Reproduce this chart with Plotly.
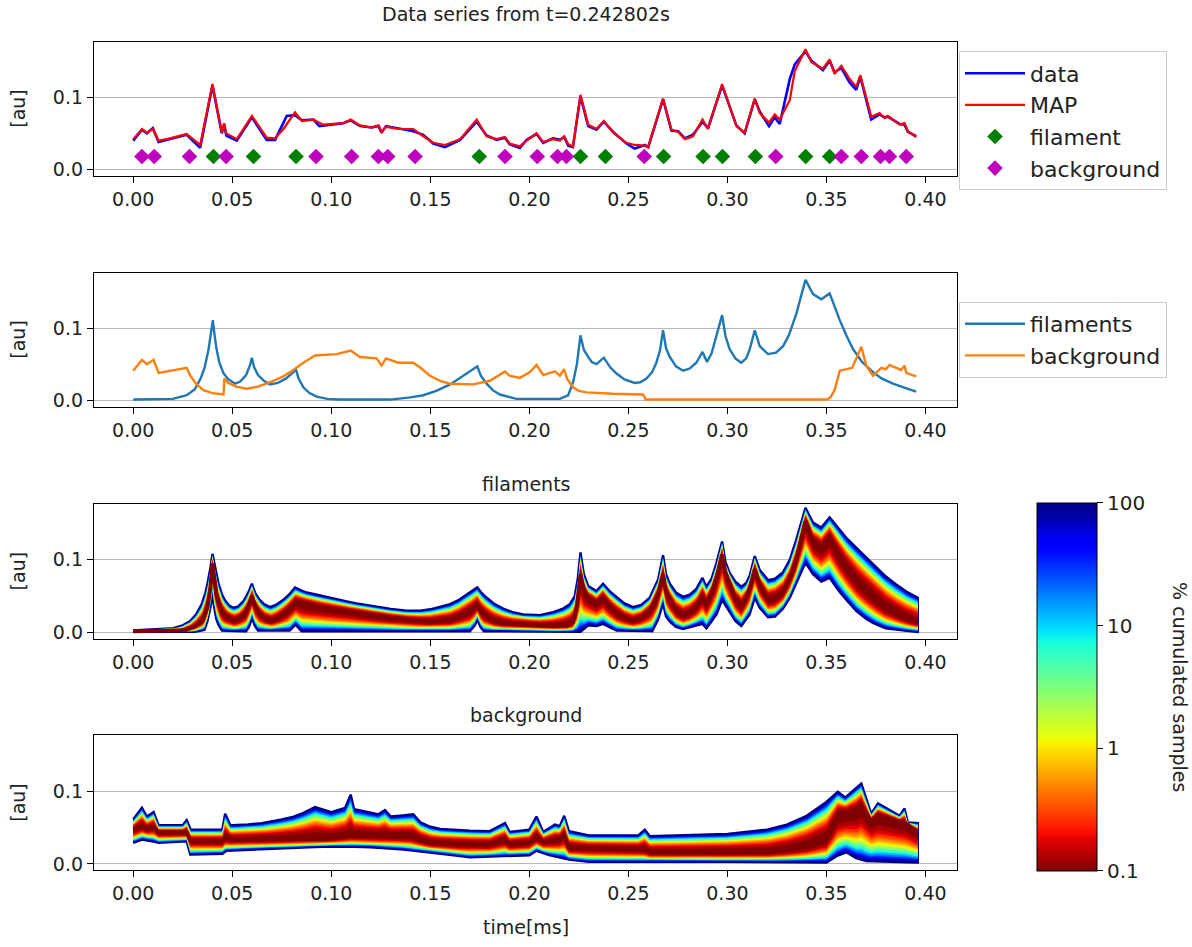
import numpy as np
import plotly.graph_objects as go

W, H = 1192, 947
FONT = "DejaVu Sans"

# ---------------- panel 1: measured data and MAP reconstruction ----------------
map_pts = [
    (0.0, 0.042), (0.0044, 0.056), (0.0069, 0.051), (0.0099, 0.056), (0.0128, 0.040),
    (0.017, 0.042), (0.027, 0.049), (0.0338, 0.034), (0.040, 0.118), (0.0447, 0.051),
    (0.0459, 0.064), (0.047, 0.050), (0.0523, 0.042), (0.0599, 0.074), (0.0674, 0.044),
    (0.0716, 0.043), (0.0758, 0.056), (0.0817, 0.079), (0.0851, 0.067), (0.091, 0.069),
    (0.096, 0.062), (0.106, 0.064), (0.1098, 0.069), (0.1145, 0.061), (0.1204, 0.058),
    (0.1238, 0.061), (0.1254, 0.052), (0.1276, 0.059), (0.134, 0.056), (0.1414, 0.056),
    (0.1464, 0.046), (0.1515, 0.037), (0.1574, 0.034), (0.165, 0.042), (0.1734, 0.069),
    (0.1784, 0.046), (0.1835, 0.042), (0.1877, 0.045), (0.190, 0.036), (0.1952, 0.032),
    (0.1986, 0.040), (0.2036, 0.050), (0.207, 0.038), (0.212, 0.042), (0.2154, 0.040),
    (0.2176, 0.046), (0.2196, 0.035), (0.222, 0.032), (0.2258, 0.103), (0.2297, 0.062),
    (0.2339, 0.056), (0.2376, 0.067), (0.2423, 0.051), (0.249, 0.037), (0.2532, 0.034),
    (0.2583, 0.033), (0.260, 0.031), (0.2675, 0.098), (0.2717, 0.055), (0.2751, 0.052),
    (0.2785, 0.042), (0.2826, 0.046), (0.2874, 0.069), (0.2902, 0.056), (0.2973, 0.118),
    (0.3045, 0.060), (0.3087, 0.051), (0.3138, 0.098), (0.3163, 0.078), (0.321, 0.065),
    (0.3239, 0.076), (0.3264, 0.069), (0.3315, 0.096), (0.334, 0.136), (0.3394, 0.166),
    (0.3424, 0.148), (0.3482, 0.139), (0.3516, 0.152), (0.3541, 0.132), (0.3575, 0.143),
    (0.3617, 0.125), (0.365, 0.114), (0.3671, 0.130), (0.3726, 0.073), (0.3768, 0.078),
    (0.3793, 0.071), (0.381, 0.074), (0.3869, 0.062), (0.3894, 0.064), (0.3911, 0.053),
    (0.3953, 0.045),
]
data_pts = [
    (0.0, 0.040), (0.0044, 0.055), (0.0069, 0.050), (0.0099, 0.057), (0.0128, 0.038),
    (0.017, 0.041), (0.027, 0.048), (0.0338, 0.030), (0.040, 0.116), (0.0447, 0.050),
    (0.0459, 0.062), (0.047, 0.047), (0.0523, 0.040), (0.0599, 0.072), (0.0674, 0.041),
    (0.0716, 0.041), (0.0775, 0.074), (0.0817, 0.075), (0.0851, 0.068), (0.091, 0.069),
    (0.094, 0.060), (0.106, 0.064), (0.1098, 0.068), (0.1145, 0.060), (0.1204, 0.058),
    (0.1238, 0.060), (0.1254, 0.051), (0.1276, 0.060), (0.134, 0.057), (0.1414, 0.053),
    (0.1464, 0.048), (0.1515, 0.036), (0.1574, 0.031), (0.165, 0.041), (0.1734, 0.066),
    (0.1784, 0.047), (0.1835, 0.041), (0.1877, 0.044), (0.190, 0.035), (0.1952, 0.030),
    (0.1986, 0.041), (0.2036, 0.049), (0.207, 0.037), (0.212, 0.043), (0.2154, 0.041),
    (0.2176, 0.045), (0.2196, 0.033), (0.222, 0.031), (0.2258, 0.101), (0.2297, 0.060),
    (0.2339, 0.055), (0.2376, 0.066), (0.2423, 0.052), (0.249, 0.036), (0.2532, 0.029),
    (0.2583, 0.034), (0.260, 0.031), (0.2675, 0.097), (0.2717, 0.054), (0.2751, 0.053),
    (0.2785, 0.043), (0.2826, 0.048), (0.2874, 0.066), (0.2902, 0.057), (0.2973, 0.116),
    (0.3045, 0.061), (0.3087, 0.050), (0.3138, 0.097), (0.3163, 0.080), (0.321, 0.060),
    (0.3239, 0.072), (0.3264, 0.063), (0.3315, 0.125), (0.334, 0.145), (0.3394, 0.163),
    (0.3424, 0.150), (0.3482, 0.137), (0.3516, 0.150), (0.3541, 0.134), (0.3575, 0.140),
    (0.3617, 0.120), (0.365, 0.110), (0.3671, 0.128), (0.3726, 0.069), (0.3768, 0.076),
    (0.3793, 0.072), (0.381, 0.073), (0.3869, 0.063), (0.3894, 0.062), (0.3911, 0.052),
    (0.3953, 0.046),
]
filament_t = [0.0405, 0.0607, 0.0822, 0.1747, 0.2258, 0.2384, 0.2678, 0.2877,
              0.2975, 0.3141, 0.3395, 0.3516]
background_t = [0.0044, 0.0106, 0.0284, 0.0469, 0.0923, 0.1103, 0.1238, 0.1285,
                0.1423, 0.1877, 0.2040, 0.2142, 0.2187, 0.2580, 0.3244, 0.3575,
                0.3676, 0.3773, 0.3818, 0.3903]
filament_v = [0.018] * len(filament_t)
background_v = [0.018] * len(background_t)

# ---------------- panel 2: MAP decomposition ----------------
fil_map_pts = [
    (0.0, 0.001), (0.02, 0.002), (0.027, 0.007), (0.031, 0.015), (0.034, 0.030),
    (0.036, 0.045), (0.038, 0.070), (0.0395, 0.095), (0.0402, 0.111), (0.041, 0.092),
    (0.042, 0.072), (0.0435, 0.052), (0.0455, 0.038), (0.048, 0.029), (0.0515, 0.023),
    (0.054, 0.026), (0.057, 0.035), (0.059, 0.049), (0.0599, 0.059), (0.061, 0.046),
    (0.063, 0.035), (0.066, 0.027), (0.0691, 0.022), (0.073, 0.024), (0.077, 0.030),
    (0.0805, 0.038), (0.0821, 0.043), (0.0835, 0.030), (0.0859, 0.018), (0.089, 0.010),
    (0.0926, 0.005), (0.098, 0.002), (0.104, 0.001), (0.1296, 0.001), (0.140, 0.004),
    (0.1464, 0.007), (0.153, 0.013), (0.160, 0.022), (0.165, 0.031), (0.1683, 0.036),
    (0.171, 0.042), (0.1737, 0.047), (0.1755, 0.034), (0.1784, 0.023), (0.1815, 0.014),
    (0.1851, 0.008), (0.190, 0.004), (0.1935, 0.002), (0.2154, 0.002), (0.2196, 0.007),
    (0.2221, 0.025), (0.224, 0.050), (0.2258, 0.090), (0.2275, 0.070), (0.2297, 0.060),
    (0.2315, 0.053), (0.2339, 0.050), (0.2376, 0.059), (0.241, 0.045), (0.244, 0.037),
    (0.248, 0.029), (0.2532, 0.024), (0.256, 0.025), (0.2591, 0.030), (0.262, 0.039),
    (0.2641, 0.052), (0.266, 0.070), (0.2675, 0.097), (0.269, 0.072), (0.2709, 0.060),
    (0.274, 0.047), (0.2776, 0.041), (0.281, 0.044), (0.2843, 0.052), (0.2874, 0.067),
    (0.2897, 0.053), (0.292, 0.065), (0.2944, 0.088), (0.2973, 0.118), (0.299, 0.089),
    (0.3011, 0.071), (0.304, 0.058), (0.307, 0.052), (0.3095, 0.058), (0.3112, 0.070),
    (0.3138, 0.097), (0.3163, 0.075), (0.3205, 0.064), (0.3245, 0.066), (0.3281, 0.075),
    (0.331, 0.090), (0.3348, 0.120), (0.3375, 0.148), (0.3394, 0.167), (0.3432, 0.147),
    (0.3474, 0.140), (0.3516, 0.148), (0.3545, 0.126), (0.3567, 0.111), (0.360, 0.090),
    (0.3634, 0.071), (0.368, 0.053), (0.3735, 0.039), (0.378, 0.030), (0.3836, 0.023),
    (0.390, 0.017), (0.3953, 0.012),
]
bg_map_pts = [
    (0.0, 0.041), (0.0044, 0.056), (0.0069, 0.050), (0.0103, 0.056), (0.0128, 0.038),
    (0.027, 0.045), (0.0288, 0.034), (0.032, 0.022), (0.0355, 0.014), (0.040, 0.010),
    (0.0456, 0.008), (0.046, 0.030), (0.048, 0.024), (0.052, 0.019), (0.0573, 0.016),
    (0.063, 0.019), (0.0691, 0.025), (0.075, 0.032), (0.0792, 0.039), (0.0859, 0.052),
    (0.0918, 0.062), (0.1027, 0.064), (0.1098, 0.069), (0.1145, 0.060), (0.1229, 0.058),
    (0.1254, 0.048), (0.1276, 0.058), (0.1338, 0.052), (0.1414, 0.052), (0.145, 0.045),
    (0.1498, 0.034), (0.155, 0.027), (0.160, 0.023), (0.1717, 0.022), (0.1801, 0.027),
    (0.1877, 0.040), (0.190, 0.034), (0.1952, 0.031), (0.2003, 0.039), (0.2036, 0.049),
    (0.207, 0.035), (0.2129, 0.040), (0.2154, 0.034), (0.2176, 0.043), (0.219, 0.030),
    (0.2221, 0.018), (0.225, 0.013), (0.2288, 0.011), (0.2423, 0.009), (0.2574, 0.008),
    (0.2588, 0.001), (0.350, 0.001), (0.352, 0.004), (0.3541, 0.014), (0.3567, 0.041),
    (0.3608, 0.043), (0.363, 0.045), (0.3676, 0.074), (0.3701, 0.048), (0.3735, 0.034),
    (0.3777, 0.045), (0.380, 0.043), (0.3818, 0.049), (0.3877, 0.042), (0.3894, 0.048),
    (0.3903, 0.038), (0.3953, 0.033),
]

# ---------------- panels 3 and 4: posterior envelopes ----------------
fil_upper_pts = [
    (0.0, 0.003), (0.0203, 0.006), (0.025, 0.010), (0.0288, 0.016), (0.032, 0.026),
    (0.0346, 0.039), (0.0365, 0.055), (0.0385, 0.080), (0.040, 0.108), (0.0415, 0.086),
    (0.043, 0.068), (0.0448, 0.052), (0.0464, 0.044), (0.0485, 0.037), (0.0506, 0.034),
    (0.053, 0.036), (0.0556, 0.043), (0.058, 0.054), (0.0599, 0.067), (0.0615, 0.055),
    (0.0632, 0.047), (0.066, 0.039), (0.0691, 0.035), (0.072, 0.038), (0.0758, 0.045),
    (0.079, 0.053), (0.0817, 0.062), (0.0845, 0.058), (0.0876, 0.055), (0.100, 0.047),
    (0.1128, 0.040), (0.125, 0.034), (0.138, 0.030), (0.145, 0.030), (0.150, 0.032),
    (0.155, 0.035), (0.160, 0.039), (0.1645, 0.045), (0.1683, 0.052), (0.1737, 0.062),
    (0.176, 0.054), (0.1784, 0.048), (0.182, 0.040), (0.1868, 0.033), (0.1915, 0.028),
    (0.1969, 0.025), (0.2053, 0.024), (0.212, 0.028), (0.217, 0.033), (0.2204, 0.039),
    (0.2229, 0.050), (0.2245, 0.075), (0.2258, 0.110), (0.2275, 0.080), (0.2297, 0.064),
    (0.2339, 0.057), (0.2372, 0.067), (0.2405, 0.057), (0.244, 0.049), (0.248, 0.040),
    (0.2524, 0.035), (0.2565, 0.038), (0.2608, 0.048), (0.265, 0.073), (0.2675, 0.106),
    (0.269, 0.080), (0.2709, 0.067), (0.274, 0.055), (0.2776, 0.049), (0.281, 0.052),
    (0.2843, 0.060), (0.2874, 0.075), (0.2894, 0.063), (0.292, 0.074), (0.2944, 0.095),
    (0.2973, 0.125), (0.299, 0.097), (0.3011, 0.082), (0.304, 0.070), (0.307, 0.063),
    (0.3095, 0.068), (0.3112, 0.078), (0.3138, 0.105), (0.3163, 0.086), (0.3205, 0.072),
    (0.324, 0.074), (0.3281, 0.083), (0.3315, 0.100), (0.3348, 0.128), (0.3394, 0.171),
    (0.3432, 0.151), (0.3474, 0.144), (0.3516, 0.158), (0.356, 0.143), (0.360, 0.130),
    (0.366, 0.114), (0.3735, 0.094), (0.379, 0.079), (0.3852, 0.066), (0.3905, 0.056),
    (0.3961, 0.048),
]
fil_core_pts = [
    (0.0, 0.002), (0.022, 0.002), (0.027, 0.004), (0.031, 0.008), (0.035, 0.016),
    (0.0375, 0.035), (0.039, 0.062), (0.040, 0.095), (0.041, 0.068), (0.0425, 0.045),
    (0.0445, 0.030), (0.047, 0.021), (0.051, 0.016), (0.054, 0.019), (0.057, 0.028),
    (0.060, 0.050), (0.0615, 0.036), (0.064, 0.025), (0.067, 0.018), (0.070, 0.016),
    (0.074, 0.021), (0.078, 0.030), (0.082, 0.042), (0.085, 0.040), (0.092, 0.036),
    (0.100, 0.032), (0.110, 0.028), (0.120, 0.024), (0.130, 0.020), (0.140, 0.017),
    (0.150, 0.015), (0.160, 0.017), (0.166, 0.023), (0.1705, 0.030), (0.1737, 0.038),
    (0.1755, 0.029), (0.178, 0.022), (0.182, 0.016), (0.186, 0.013), (0.200, 0.011),
    (0.212, 0.009), (0.219, 0.010), (0.222, 0.014), (0.224, 0.035), (0.2258, 0.080),
    (0.2275, 0.058), (0.2297, 0.048), (0.2339, 0.040), (0.2372, 0.048), (0.2405, 0.036),
    (0.244, 0.027), (0.248, 0.020), (0.2524, 0.016), (0.2565, 0.020), (0.2608, 0.030),
    (0.2645, 0.048), (0.2675, 0.080), (0.269, 0.056), (0.2709, 0.045), (0.274, 0.030),
    (0.2776, 0.023), (0.281, 0.027), (0.2843, 0.035), (0.2874, 0.050), (0.2894, 0.040),
    (0.292, 0.055), (0.2945, 0.075), (0.2973, 0.107), (0.299, 0.082), (0.3011, 0.068),
    (0.304, 0.046), (0.307, 0.036), (0.3095, 0.048), (0.3112, 0.060), (0.3138, 0.087),
    (0.3163, 0.065), (0.3205, 0.045), (0.324, 0.047), (0.3281, 0.056), (0.3315, 0.074),
    (0.3348, 0.100), (0.3394, 0.153), (0.3432, 0.125), (0.3474, 0.116), (0.3516, 0.130),
    (0.356, 0.108), (0.360, 0.090), (0.366, 0.068), (0.3735, 0.049), (0.379, 0.036),
    (0.3852, 0.026), (0.3905, 0.019), (0.3961, 0.014),
]
fil_lower_pts = [
    (0.0, 0.001), (0.032, 0.001), (0.036, 0.004), (0.038, 0.020), (0.040, 0.050),
    (0.041, 0.032), (0.042, 0.018), (0.0435, 0.008), (0.045, 0.002), (0.057, 0.002),
    (0.0585, 0.008), (0.060, 0.020), (0.0615, 0.009), (0.063, 0.003), (0.079, 0.003),
    (0.082, 0.011), (0.085, 0.002), (0.170, 0.002), (0.1725, 0.010), (0.1737, 0.018),
    (0.1755, 0.007), (0.177, 0.002), (0.2258, 0.001), (0.2297, 0.010), (0.2339, 0.009),
    (0.2372, 0.012), (0.244, 0.003), (0.262, 0.002), (0.265, 0.018), (0.2675, 0.040),
    (0.269, 0.022), (0.2709, 0.015), (0.274, 0.008), (0.2776, 0.005), (0.2874, 0.012),
    (0.2894, 0.006), (0.2945, 0.025), (0.2973, 0.045), (0.3011, 0.028), (0.304, 0.016),
    (0.307, 0.009), (0.3112, 0.025), (0.3138, 0.048), (0.3163, 0.034), (0.3205, 0.021),
    (0.324, 0.022), (0.3281, 0.033), (0.3315, 0.048), (0.3348, 0.068), (0.3394, 0.096),
    (0.3432, 0.080), (0.3474, 0.070), (0.3516, 0.075), (0.356, 0.058), (0.360, 0.045),
    (0.365, 0.030), (0.370, 0.019), (0.375, 0.011), (0.380, 0.006), (0.388, 0.003),
    (0.3961, 0.001),
]
bg_upper_pts = [
    (0.0, 0.061), (0.0044, 0.077), (0.0069, 0.065), (0.0103, 0.071), (0.0128, 0.053),
    (0.025, 0.053), (0.027, 0.060), (0.029, 0.047), (0.045, 0.047), (0.0464, 0.069),
    (0.049, 0.053), (0.058, 0.054), (0.065, 0.056), (0.072, 0.059), (0.080, 0.064),
    (0.086, 0.070), (0.0918, 0.078), (0.100, 0.071), (0.107, 0.077), (0.1098, 0.095),
    (0.1115, 0.075), (0.1238, 0.068), (0.1271, 0.074), (0.130, 0.065), (0.1414, 0.068),
    (0.145, 0.057), (0.150, 0.051), (0.155, 0.048), (0.165, 0.046), (0.180, 0.045),
    (0.1877, 0.056), (0.190, 0.044), (0.200, 0.047), (0.2036, 0.065), (0.207, 0.044),
    (0.2129, 0.054), (0.2154, 0.052), (0.2176, 0.066), (0.2196, 0.045), (0.230, 0.039),
    (0.255, 0.039), (0.2583, 0.047), (0.2608, 0.038), (0.280, 0.039), (0.300, 0.041),
    (0.320, 0.047), (0.330, 0.054), (0.340, 0.066), (0.345, 0.075), (0.350, 0.085),
    (0.3557, 0.099), (0.3595, 0.091), (0.3676, 0.110), (0.3726, 0.069), (0.376, 0.083),
    (0.3869, 0.066), (0.3894, 0.076), (0.391, 0.057), (0.3961, 0.056),
]
bg_core_pts = [
    (0.0, 0.047), (0.0044, 0.052), (0.0069, 0.048), (0.0103, 0.051), (0.0128, 0.043),
    (0.027, 0.043), (0.029, 0.031), (0.045, 0.031), (0.0464, 0.036), (0.050, 0.033),
    (0.075, 0.034), (0.100, 0.035), (0.110, 0.039), (0.140, 0.038), (0.145, 0.033),
    (0.150, 0.029), (0.165, 0.027), (0.180, 0.027), (0.1877, 0.033), (0.190, 0.027),
    (0.200, 0.029), (0.2036, 0.036), (0.207, 0.030), (0.215, 0.034), (0.2176, 0.039),
    (0.220, 0.022), (0.258, 0.020), (0.2608, 0.016), (0.320, 0.016), (0.330, 0.019),
    (0.340, 0.024), (0.350, 0.034), (0.3557, 0.066), (0.365, 0.072), (0.3676, 0.079),
    (0.3726, 0.059), (0.376, 0.066), (0.380, 0.063), (0.390, 0.056), (0.3961, 0.043),
]
bg_lower_pts = [
    (0.0, 0.029), (0.005, 0.034), (0.0128, 0.029), (0.027, 0.031), (0.0288, 0.013),
    (0.045, 0.014), (0.047, 0.018), (0.070, 0.021), (0.100, 0.024), (0.120, 0.023),
    (0.135, 0.020), (0.150, 0.016), (0.170, 0.009), (0.200, 0.012), (0.2036, 0.018),
    (0.210, 0.012), (0.220, 0.006), (0.230, 0.003), (0.320, 0.003), (0.350, 0.002),
    (0.356, 0.012), (0.360, 0.016), (0.365, 0.008), (0.370, 0.004), (0.3961, 0.002),
]

# percentage levels of cumulated samples, outermost first
levels = [100, 60, 35, 20, 12, 7, 4, 2.5, 1.5, 1, 0.7, 0.5, 0.35, 0.25, 0.18, 0.13, 0.1]

x_ticks = [0.0, 0.05, 0.10, 0.15, 0.20, 0.25, 0.30, 0.35, 0.40]
y_ticks = [0.0, 0.1]
cbar_ticks = ["0.1", "1", "10", "100"]


def split(pts):
    t, v = zip(*pts)
    return np.array(t), np.array(v)


def jet(x):
    r = np.interp(x, [0, 0.35, 0.66, 0.89, 1], [0, 0, 1, 1, 0.5])
    g = np.interp(x, [0, 0.125, 0.375, 0.64, 0.91, 1], [0, 0, 1, 1, 0, 0])
    b = np.interp(x, [0, 0.11, 0.34, 0.65, 1], [0.5, 1, 1, 0, 0])
    return "rgb(%d,%d,%d)" % (round(r * 255), round(g * 255), round(b * 255))


def level_pos(level):
    # position of a percentage on the log colour axis (0.1 -> 0, 100 -> 1)
    return (np.log10(level) + 1) / 3


def level_color(level):
    return jet(1 - level_pos(level))


def band_traces(upper, core, lower, axis):
    tu, vu = split(upper)
    tc, vc = split(core)
    tl, vl = split(lower)
    grid = np.unique(np.concatenate([tu, tc, tl]))
    cu = np.interp(grid, tc, vc)
    up = np.maximum(np.interp(grid, tu, vu), cu)
    lo = np.minimum(np.interp(grid, tl, vl), cu)
    out = []
    for i, lev in enumerate(levels):
        # half-width of each percentage band, relative to the outer envelope
        f = 0.2 + 0.8 * level_pos(lev) ** 0.6
        hi = cu + f * (up - cu)
        lw = cu - f * (cu - lo)
        out.append(go.Scatter(
            x=np.concatenate([grid, grid[::-1]]),
            y=np.concatenate([hi, lw[::-1]]),
            mode="lines", fill="toself", fillcolor=level_color(lev),
            line=dict(color="#00007f" if i == 0 else level_color(lev),
                      width=2.4 if i == 0 else 0),
            showlegend=False, hoverinfo="skip", xaxis="x" + axis, yaxis="y" + axis))
    out.append(go.Scatter(x=grid, y=cu, mode="lines",
                          line=dict(color="#7f0000", width=4),
                          showlegend=False, hoverinfo="skip",
                          xaxis="x" + axis, yaxis="y" + axis))
    return out


fig = go.Figure()

# panel 1
t, v = split(data_pts)
fig.add_trace(go.Scatter(x=t, y=v, mode="lines", name="data",
                         line=dict(color="#0000ff", width=2.6), legend="legend"))
t, v = split(map_pts)
fig.add_trace(go.Scatter(x=t, y=v, mode="lines", name="MAP",
                         line=dict(color="#ff0000", width=2.2), legend="legend"))
fig.add_trace(go.Scatter(x=filament_t, y=filament_v, mode="markers", name="filament",
                         marker=dict(symbol="diamond", color="#008000", size=12),
                         legend="legend"))
fig.add_trace(go.Scatter(x=background_t, y=background_v, mode="markers", name="background",
                         marker=dict(symbol="diamond", color="#bf00bf", size=12),
                         legend="legend"))

# panel 2
t, v = split(fil_map_pts)
fig.add_trace(go.Scatter(x=t, y=v, mode="lines", name="filaments",
                         line=dict(color="#1f77b4", width=2.4),
                         xaxis="x2", yaxis="y2", legend="legend2"))
t, v = split(bg_map_pts)
fig.add_trace(go.Scatter(x=t, y=v, mode="lines", name="background",
                         line=dict(color="#ff7f0e", width=2.4),
                         xaxis="x2", yaxis="y2", legend="legend2"))

# panels 3 and 4
for tr in band_traces(fil_upper_pts, fil_core_pts, fil_lower_pts, "3"):
    fig.add_trace(tr)
for tr in band_traces(bg_upper_pts, bg_core_pts, bg_lower_pts, "4"):
    fig.add_trace(tr)

# colour bar for the percentage scale
cb_scale = [[s, jet(1 - s)] for s in np.linspace(0, 1, 61)]
fig.add_trace(go.Scatter(
    x=[-1], y=[-1], mode="markers", showlegend=False, hoverinfo="skip",
    xaxis="x4", yaxis="y4",
    marker=dict(color=[0.5], cmin=-1, cmax=2, colorscale=cb_scale, showscale=True,
                size=1,
                colorbar=dict(thickness=60, thicknessmode="pixels",
                              len=370 / H, lenmode="fraction",
                              x=1037 / W, xanchor="left", y=1 - 505 / H, yanchor="top",
                              xpad=0, ypad=0, outlinewidth=1, outlinecolor="black",
                              tickvals=[-1, 0, 1, 2], ticktext=cbar_ticks,
                              ticks="outside", ticklen=6, tickcolor="black",
                              tickfont=dict(family=FONT, size=20, color="#222")))))


def py(p):
    return 1 - p / H


panels = {"": (41.7, 176.7), "2": (274, 408.3), "3": (506, 641.7), "4": (738.3, 874)}
x_dom = [94 / W, 957 / W]
axis_font = dict(family=FONT, size=19, color="#222")
layout = dict(
    width=W, height=H, margin=dict(l=0, r=0, t=0, b=0),
    paper_bgcolor="white", plot_bgcolor="white", font=dict(family=FONT, color="#222"),
)
for key, (top, bot) in panels.items():
    anchor = "y" + key
    layout["xaxis" + key] = dict(
        domain=x_dom, anchor=anchor, range=[-0.0198, 0.4159],
        tickvals=x_ticks, ticktext=["%.2f" % x for x in x_ticks],
        showgrid=False, zeroline=False, showline=True, mirror=True,
        linecolor="black", linewidth=1.3, ticks="outside", ticklen=6,
        tickcolor="black", tickfont=axis_font)
    layout["yaxis" + key] = dict(
        domain=[py(bot), py(top)], anchor="x" + key, range=[-0.0087, 0.1765],
        tickvals=y_ticks, ticktext=["%.1f" % y for y in y_ticks],
        showgrid=True, gridcolor="#b8b8b8", gridwidth=1.2, zeroline=False,
        showline=True, mirror=True, linecolor="black", linewidth=1.3,
        ticks="outside", ticklen=6, tickcolor="black", tickfont=axis_font)

legend_style = dict(xanchor="left", yanchor="top", bgcolor="white",
                    bordercolor="#cccccc", borderwidth=1,
                    font=dict(family=FONT, size=22, color="#222"),
                    tracegroupgap=0, itemwidth=60)
layout["legend"] = dict(x=959 / W, y=py(51.7), **legend_style)
layout["legend2"] = dict(x=959 / W, y=py(303.3), **legend_style)

xc = (94 + 957) / 2 / W
ann = [
    dict(text="Data series from t=0.242802s", x=xc, y=py(14), size=19),
    dict(text="filaments", x=xc, y=py(486), size=19),
    dict(text="background", x=xc, y=py(718), size=19),
    dict(text="time[ms]", x=xc, y=py(931), size=19),
]
annotations = [dict(text=a["text"], x=a["x"], y=a["y"], xref="paper", yref="paper",
                    xanchor="center", yanchor="middle", showarrow=False,
                    font=dict(family=FONT, size=a["size"], color="#222")) for a in ann]
for top, bot in panels.values():
    annotations.append(dict(text="[au]", x=18 / W, y=py((top + bot) / 2),
                            xref="paper", yref="paper", xanchor="center",
                            yanchor="middle", textangle=-90, showarrow=False,
                            font=dict(family=FONT, size=19, color="#222")))
annotations.append(dict(text="% cumulated samples", x=1180 / W, y=py(690),
                        xref="paper", yref="paper", xanchor="center", yanchor="middle",
                        textangle=90, showarrow=False,
                        font=dict(family=FONT, size=19, color="#222")))
layout["annotations"] = annotations

fig.update_layout(**layout)
fig.write_html("out.html")
